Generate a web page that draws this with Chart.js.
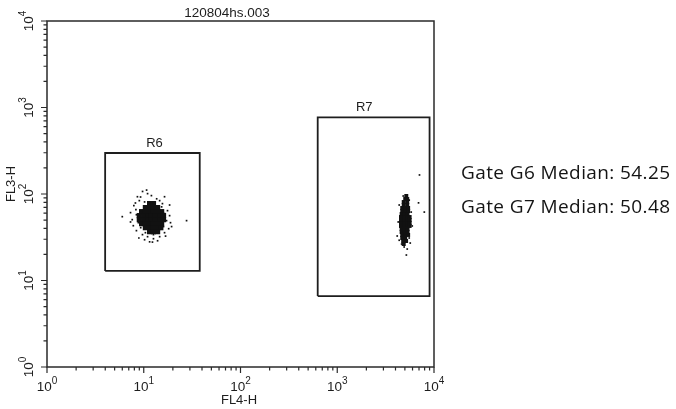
<!DOCTYPE html>
<html>
<head>
<meta charset="utf-8">
<script src="https://cdn.jsdelivr.net/npm/chart.js@4.4.0/dist/chart.umd.min.js"></script>
<style>
    body { margin: 0; background: #fff; }
    #wrap { position: relative; width: 676px; height: 409px; }
    .median {
        position: absolute; left: 461px;
        font-family: 'Open Sans', sans-serif; font-size: 19px; line-height: 19px;
        letter-spacing: 0.4px; color: #141414; white-space: nowrap;
    }
</style>
</head>
<body>
<div id="wrap">
    <canvas id="facsChart"></canvas>
</div>
<script>
// file / axis names
const fileName = '120804hs.003';
const xAxisName = 'FL4-H';
const yAxisName = 'FL3-H';

// log decades and their exponent labels
const decades = [1, 10, 100, 1000, 10000];
const decadeExp = ['0', '1', '2', '3', '4'];
const minorSteps = [2, 3, 4, 5, 6, 7, 8, 9];

// gates (FL4-H x FL3-H)
const gateNames = ['R6', 'R7'];
const gateXMin = [3.99, 628];
const gateXMax = [37.9, 9000];
const gateYMin = [12.9, 6.6];
const gateYMax = [298, 768];
const gateLabelX = [12.9, 1900];

// median readouts
const medianGates = ['G6', 'G7'];
const medianValues = ['54.25', '50.48'];

// events, gate R6 - dense core and loose events
const g6Core = [
    [11.5, 77.4], [12.6, 77.4],
    [10.4, 69.6], [11.5, 69.6], [12.6, 69.6], [13.9, 69.6],
    [9.5, 62.5], [10.4, 62.5], [11.5, 62.5], [12.6, 62.5], [13.9, 62.5], [15.3, 62.5],
    [9.0, 56.2], [10.0, 56.2], [11.0, 56.2], [12.0, 56.2], [13.2, 56.2], [14.6, 56.2], [16.0, 56.2],
    [9.0, 50.5], [10.0, 50.5], [11.0, 50.5], [12.0, 50.5], [13.2, 50.5], [14.6, 50.5], [16.0, 50.5],
    [9.5, 45.4], [10.4, 45.4], [11.5, 45.4], [12.6, 45.4], [13.9, 45.4], [15.3, 45.4],
    [10.4, 40.8], [11.5, 40.8], [12.6, 40.8], [13.9, 40.8], [15.0, 40.8],
    [11.5, 36.7], [12.6, 36.7], [13.9, 36.7]
];
const g6Loose = [
    [9.72, 107], [10.95, 101], [8.6, 93], [12.0, 95.8], [13.6, 88], [7.9, 73.4],
    [14.6, 83.8], [15.6, 77.4], [7.3, 60.9], [17.6, 64.2], [18.5, 56.2], [18.9, 46.6],
    [18.1, 39.7], [16.4, 35.7], [14.6, 32.1], [12.6, 30.4], [10.95, 32.1], [9.7, 33.9],
    [8.4, 37.7], [7.8, 43.0], [7.6, 50.5], [8.3, 65.9], [6.0, 54.7], [27.7, 49.2],
    [16.4, 93], [9.0, 83.8], [19.4, 42], [13.9, 28.8], [11.5, 28], [10.2, 29.6],
    [8.4, 57.6], [8.8, 46.6], [9.3, 40.8], [16.4, 59.5], [17.2, 49.2], [16.0, 42],
    [12.6, 33.9], [10.4, 35.7], [10.2, 81], [12.9, 81],
    [9.27, 92.3], [10.7, 111], [8.2, 78.7], [15.3, 71], [16.8, 32.6], [8.9, 31],
    [7.3, 47.5], [18.5, 74.6], [12.3, 27.8]
];

// events, gate R7
const g7Core = [
    [5170, 94.8],
    [5042, 87.5], [5289, 87.5],
    [4864, 80.8], [5289, 80.8],
    [4864, 74.6], [5289, 74.6],
    [4693, 68.9], [5042, 68.9], [5405, 68.9],
    [4693, 63.6], [5042, 63.6], [5405, 63.6],
    [4628, 58.7], [4970, 58.7], [5330, 58.7],
    [4560, 54.2], [4920, 54.2], [5290, 54.2], [5600, 54.2],
    [4560, 50.1], [4920, 50.1], [5290, 50.1], [5600, 50.1],
    [4560, 46.2], [4920, 46.2], [5290, 46.2], [5600, 46.2],
    [4560, 42.7], [4920, 42.7], [5290, 42.7], [5600, 42.7],
    [4628, 39.4], [4970, 39.4], [5330, 39.4],
    [4628, 36.4], [4970, 36.4], [5330, 36.4],
    [4693, 33.6], [5042, 33.6], [5405, 33.6],
    [4693, 31.0], [5042, 31.0],
    [4800, 28.6], [5150, 28.6],
    [4864, 26.4]
];
const g7Loose = [
    [4370, 74.6], [4267, 47.5], [4166, 32.7], [4370, 29.2], [4628, 26.4], [5543, 31.0],
    [5681, 27.1], [5289, 23.1], [4917, 24.4], [5180, 19.7], [4806, 94.8], [5543, 85],
    [5813, 61.8], [5957, 42.7], [6920, 79], [7940, 61.8], [7080, 166], [4693, 38.4]
];

const font = "'Liberation Sans', Arial, sans-serif";
const ink = '#1e1e1e';

const toPoints = arr => arr.map(p => ({ x: p[0], y: p[1] }));

document.addEventListener('DOMContentLoaded', () => {
    const wrap = document.getElementById('wrap');
    medianGates.forEach((g, i) => {
        const div = document.createElement('div');
        div.className = 'median';
        div.style.top = (163 + i * 34) + 'px';
        div.textContent = `Gate ${g} Median: ${medianValues[i]}`;
        wrap.appendChild(div);
    });

    // draws frame, log ticks, exponent labels, titles and gate names
    const facsDecor = {
        id: 'facsDecor',
        afterDraw(chart) {
            const { ctx, chartArea: a, scales: { x, y } } = chart;
            ctx.save();
            ctx.strokeStyle = '#2a2a2a';
            ctx.lineWidth = 1.5;
            ctx.strokeRect(a.left, a.top, a.right - a.left, a.bottom - a.top);

            ctx.lineWidth = 1.2;
            ctx.beginPath();
            decades.forEach((d, i) => {
                const px = x.getPixelForValue(d);
                const py = y.getPixelForValue(d);
                ctx.moveTo(px, a.bottom); ctx.lineTo(px, a.bottom + 6);
                ctx.moveTo(a.left, py); ctx.lineTo(a.left - 6, py);
                if (i < decades.length - 1) {
                    minorSteps.forEach(m => {
                        const mx = x.getPixelForValue(d * m);
                        const my = y.getPixelForValue(d * m);
                        ctx.moveTo(mx, a.bottom); ctx.lineTo(mx, a.bottom + 3.5);
                        ctx.moveTo(a.left, my); ctx.lineTo(a.left - 3.5, my);
                    });
                }
            });
            ctx.stroke();

            ctx.fillStyle = ink;
            const big = `13.5px ${font}`;
            const small = `10px ${font}`;
            ctx.textAlign = 'left';
            ctx.textBaseline = 'alphabetic';
            decades.forEach((d, i) => {
                ctx.font = big;
                const w1 = ctx.measureText('10').width;
                ctx.font = small;
                const w2 = ctx.measureText(decadeExp[i]).width;
                const w = w1 + w2;

                const px = x.getPixelForValue(d);
                ctx.font = big;
                ctx.fillText('10', px - w / 2, 391);
                ctx.font = small;
                ctx.fillText(decadeExp[i], px - w / 2 + w1, 384);

                const py = y.getPixelForValue(d);
                ctx.save();
                ctx.translate(33, py);
                ctx.rotate(-Math.PI / 2);
                ctx.font = big;
                ctx.fillText('10', -w / 2, 0);
                ctx.font = small;
                ctx.fillText(decadeExp[i], -w / 2 + w1, -7);
                ctx.restore();
            });

            ctx.font = `13.5px ${font}`;
            ctx.textAlign = 'center';
            ctx.fillText(fileName, 227, 16.5);
            ctx.font = `13px ${font}`;
            ctx.fillText(xAxisName, 239, 404);
            ctx.save();
            ctx.translate(15, 184);
            ctx.rotate(-Math.PI / 2);
            ctx.fillText(yAxisName, 0, 0);
            ctx.restore();

            gateNames.forEach((n, i) => {
                ctx.fillText(n, x.getPixelForValue(gateLabelX[i]), y.getPixelForValue(gateYMax[i]) - 6);
            });
            ctx.restore();
        }
    };

    const gateSets = gateNames.map((n, i) => ({
        label: n,
        data: [
            { x: gateXMin[i], y: gateYMin[i] },
            { x: gateXMax[i], y: gateYMin[i] },
            { x: gateXMax[i], y: gateYMax[i] },
            { x: gateXMin[i], y: gateYMax[i] },
            { x: gateXMin[i], y: gateYMin[i] }
        ],
        showLine: true,
        borderColor: ink,
        borderWidth: 1.8,
        pointRadius: 0,
        fill: false,
        tension: 0
    }));

    const dots = (label, arr, r) => ({
        label: label,
        data: toPoints(arr),
        pointStyle: 'rect',
        pointRadius: r,
        pointBorderWidth: 0,
        pointBackgroundColor: '#111',
        backgroundColor: '#111',
        showLine: false
    });

    new Chart(document.getElementById('facsChart'), {
        type: 'scatter',
        data: {
            datasets: [
                ...gateSets,
                dots('R6 core', g6Core, 3.7),
                dots('R6 loose', g6Loose, 1.2),
                dots('R7 core', g7Core, 2.8),
                dots('R7 loose', g7Loose, 1.2)
            ]
        },
        options: {
            responsive: true,
            maintainAspectRatio: false,
            animation: false,
            layout: { padding: { left: 47, right: 242, top: 21, bottom: 42 } },
            scales: {
                x: { type: 'logarithmic', min: 1, max: 10000, display: false },
                y: { type: 'logarithmic', min: 1, max: 10000, display: false }
            },
            plugins: {
                legend: { display: false },
                tooltip: { enabled: false }
            }
        },
        plugins: [facsDecor]
    });
});
</script>
</body>
</html>
